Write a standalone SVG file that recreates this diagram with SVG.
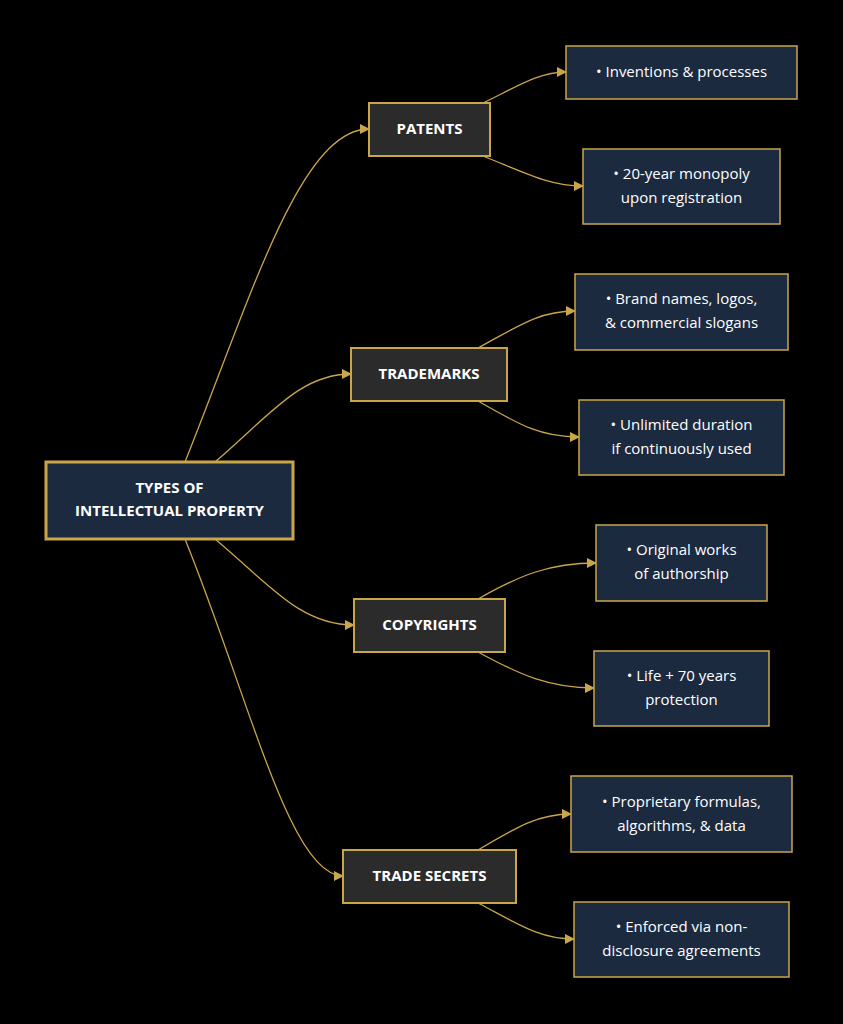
<svg xmlns="http://www.w3.org/2000/svg" width="843" height="1024" viewBox="0 0 843 1024">
<style>
.e{fill:none;stroke:#c9a64a;stroke-width:1.3}
.cat rect{fill:#2b2b2b;stroke:#c9a64a;stroke-width:2}
.leaf rect{fill:#1c2a3f;stroke:#c9a64a;stroke-width:1.5}
.root rect{fill:#1c2a3f;stroke:#c9a64a;stroke-width:3}
text{font-family:"Open Sans","Noto Sans",sans-serif;fill:#fff;text-anchor:middle;font-size:15px}
.b{font-weight:bold}
</style>
<defs><marker id="a" viewBox="0 0 10 10" refX="9" refY="5" markerWidth="8" markerHeight="8" orient="auto"><path d="M0,0L10,5L0,10z" fill="#c9a64a"/></marker></defs>
<rect width="843" height="1024" fill="#000"/>
<g id="edges">
<path class="e" marker-end="url(#a)" d="M185,462 C250,300 300,129 369,129"/>
<path class="e" marker-end="url(#a)" d="M215,462 C270,415 300,374 351,374"/>
<path class="e" marker-end="url(#a)" d="M215,539 C270,585 300,625 354,625"/>
<path class="e" marker-end="url(#a)" d="M185,539 C250,700 290,876 343,876"/>
<path class="e" marker-end="url(#a)" d="M483,103 C520,85 540,72 566,72"/>
<path class="e" marker-end="url(#a)" d="M483,156 C530,175 550,186 583,186"/>
<path class="e" marker-end="url(#a)" d="M478,348 C520,325 540,311 575,311"/>
<path class="e" marker-end="url(#a)" d="M478,401 C520,425 540,437 579,437"/>
<path class="e" marker-end="url(#a)" d="M478,599 C520,575 550,563 596,563"/>
<path class="e" marker-end="url(#a)" d="M478,652 C520,675 550,688 594,688"/>
<path class="e" marker-end="url(#a)" d="M478,850 C520,825 540,814 571,814"/>
<path class="e" marker-end="url(#a)" d="M478,903 C520,925 540,939 574,939"/>
</g>
<g id="root" class="root"><rect x="46" y="462" width="247" height="77"/><text class="b" x="169.5" y="493">TYPES OF</text><text class="b" x="169.5" y="516">INTELLECTUAL PROPERTY</text></g>
<g id="patents" class="cat"><rect x="369" y="103" width="121" height="53"/><text class="b" x="429.5" y="134">PATENTS</text></g>
<g id="trademarks" class="cat"><rect x="351" y="348" width="156" height="53"/><text class="b" x="429" y="379">TRADEMARKS</text></g>
<g id="copyrights" class="cat"><rect x="354" y="599" width="151" height="53"/><text class="b" x="429.5" y="630">COPYRIGHTS</text></g>
<g id="secrets" class="cat"><rect x="343" y="850" width="173" height="53"/><text class="b" x="429.5" y="881">TRADE SECRETS</text></g>
<g id="l1" class="leaf"><rect x="566" y="46" width="231" height="53"/><text x="681.5" y="77">• Inventions &amp; processes</text></g>
<g id="l2" class="leaf"><rect x="583" y="149" width="197" height="75"/><text x="681.5" y="179">• 20-year monopoly</text><text x="681.5" y="203">upon registration</text></g>
<g id="l3" class="leaf"><rect x="575" y="274" width="213" height="76"/><text x="681.5" y="304">• Brand names, logos,</text><text x="681.5" y="328">&amp; commercial slogans</text></g>
<g id="l4" class="leaf"><rect x="579" y="400" width="205" height="75"/><text x="681.5" y="430">• Unlimited duration</text><text x="681.5" y="454">if continuously used</text></g>
<g id="l5" class="leaf"><rect x="596" y="525" width="171" height="76"/><text x="681.5" y="555">• Original works</text><text x="681.5" y="579">of authorship</text></g>
<g id="l6" class="leaf"><rect x="594" y="651" width="175" height="75"/><text x="681.5" y="681">• Life + 70 years</text><text x="681.5" y="705">protection</text></g>
<g id="l7" class="leaf"><rect x="571" y="776" width="221" height="76"/><text x="681.5" y="807">• Proprietary formulas,</text><text x="681.5" y="831">algorithms, &amp; data</text></g>
<g id="l8" class="leaf"><rect x="574" y="902" width="215" height="75"/><text x="681.5" y="932">• Enforced via non-</text><text x="681.5" y="956">disclosure agreements</text></g>
</svg>
